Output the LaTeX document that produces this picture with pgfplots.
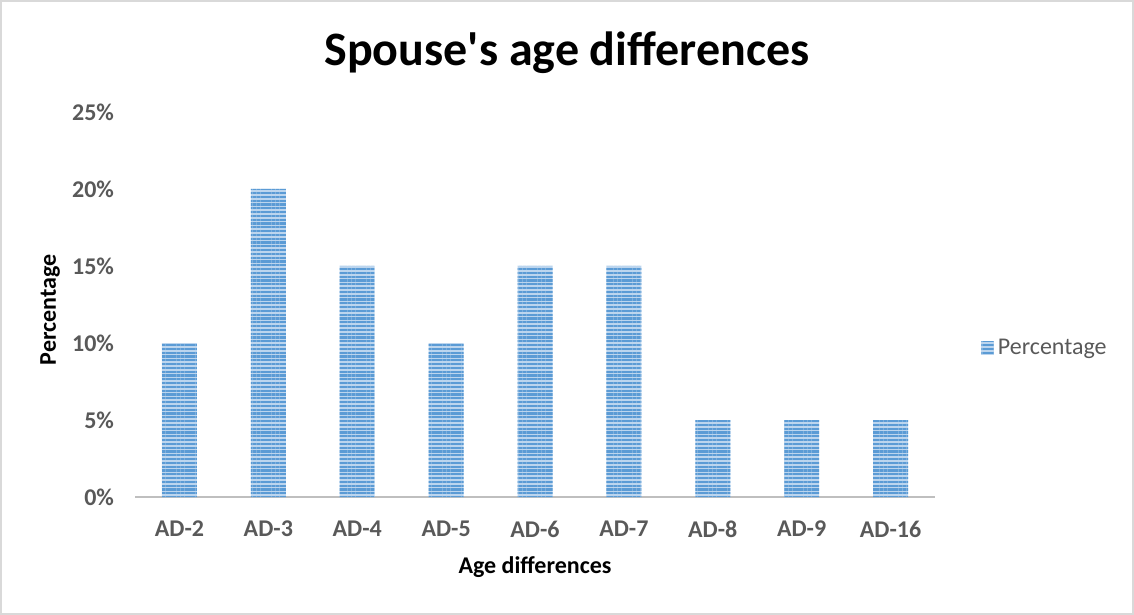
\documentclass[border=0pt]{standalone}
\usepackage{fontspec}
\setmainfont{Carlito}
\usepackage{pgfplots}
\pgfplotsset{compat=1.18}
\usetikzlibrary{patterns.meta}
\definecolor{barblue}{HTML}{5B9BD5}
\definecolor{barlight}{HTML}{BCD5EE}
\definecolor{ticktext}{HTML}{595959}
\definecolor{axisgray}{HTML}{BFBFBF}
\definecolor{framegray}{HTML}{D9D9D9}
\begin{document}
\begin{tikzpicture}
\draw[framegray, line width=0.8pt] (0.4pt,0.4pt) rectangle (566.6pt,307.1pt);
\begin{axis}[
  at={(67.5pt,59pt)}, anchor=south west,
  scale only axis, width=400pt, height=192.5pt,
  xmin=-0.5, xmax=8.5, ymin=0, ymax=25,
  xtick={0,1,2,3,4,5,6,7,8},
  xticklabels={AD-2,AD-3,AD-4,AD-5,AD-6,AD-7,AD-8,AD-9,AD-16},
  ytick={0,5,10,15,20,25},
  yticklabels={0\%,5\%,10\%,15\%,20\%,25\%},
  major tick length=0pt,
  axis x line*=bottom, axis y line*=left,
  x axis line style={axisgray, line width=1pt, -},
  y axis line style={draw=none},
  xticklabel style={font=\fontsize{12}{14}\selectfont\bfseries, text=ticktext, yshift=-8.5pt},
  yticklabel style={font=\fontsize{12}{14}\selectfont\bfseries, text=ticktext, xshift=-7pt},
  title={Spouse\textquotesingle s age differences},
  title style={at={(axis description cs:0.54,1.122)}, anchor=center, yshift=0pt, font=\fontsize{24}{28}\selectfont\bfseries},
  xlabel={Age differences},
  xlabel style={at={(axis description cs:0.5,-0.182)}, anchor=center, font=\fontsize{12}{14}\selectfont\bfseries},
  ylabel={Percentage},
  ylabel style={at={(axis description cs:-0.106,0.486)}, anchor=center, rotate=0, font=\fontsize{12}{14}\selectfont\bfseries},
  legend style={at={(axis description cs:1.05,0.387)}, anchor=west, draw=none, fill=none, font=\fontsize{12}{14}\selectfont, text=ticktext},
  legend image code/.code={\draw[#1, draw=none] (0cm,-0.12cm) rectangle (0.22cm,0.12cm);},
]
\addplot[ybar, bar width=17.5pt, draw=none, preaction={fill=barlight},
  pattern={Lines[angle=0,distance=1.9pt,line width=1.1pt]}, pattern color=barblue]
  coordinates {(0,10) (1,20) (2,15) (3,10) (4,15) (5,15) (6,5) (7,5) (8,5)};
\addlegendentry{Percentage}
\end{axis}
\end{tikzpicture}
\end{document}
